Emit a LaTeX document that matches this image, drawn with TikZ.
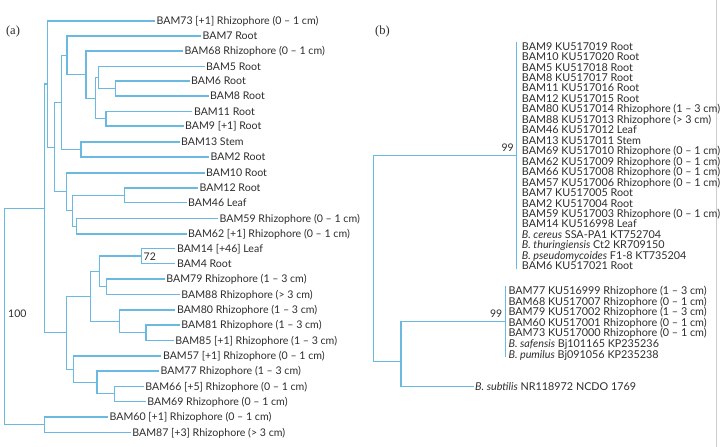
\documentclass[tikz,border=0pt]{standalone}
\usepackage{fontspec}
\setmainfont{Liberation Serif}
\newfontfamily\labfont{Lato}
\definecolor{treeblue}{RGB}{105,185,224}
\definecolor{txt}{RGB}{45,45,45}
\definecolor{edgegray}{RGB}{205,205,205}
\newcommand\tjoin[3]{\draw[branch] (#2) -- (#1 |- #2) -- (#1 |- #3) -- (#3);}
\begin{document}
\begin{tikzpicture}[x=1pt,y=-1pt,
  branch/.style={draw=treeblue,line width=1.1pt},
  leafl/.style={anchor=west,inner sep=1.5pt,text height=7.6pt,text depth=0pt,font=\labfont\fontsize{10.6}{12}\selectfont,text=txt},
  leafr/.style={anchor=west,inner sep=0pt,text height=7.6pt,text depth=0pt,font=\labfont\fontsize{10.8}{11}\selectfont,text=txt},
  boot/.style={font=\labfont\fontsize{10.5}{12}\selectfont,text=txt,inner sep=0pt},
  panel/.style={font=\fontsize{12.5}{14}\selectfont,text=txt,inner sep=0pt}]
\useasboundingbox (0,0) rectangle (721,447);
\draw[edgegray,line width=0.8pt] (716,0) -- (716,447);
\node[panel] (pa) at (13,31.7) {(a)};
\node[panel] (pb) at (382.5,31.7) {(b)};
% ---------------- left tree: leaves
\node[leafl] (L73) at (155,21) {BAM73 [+1] Rhizophore (0 – 1 cm)};
\node[leafl] (L7) at (201,36) {BAM7 Root};
\node[leafl] (L68) at (183,51) {BAM68 Rhizophore (0 – 1 cm)};
\node[leafl] (L5) at (204.5,66.5) {BAM5 Root};
\node[leafl] (L6) at (189.5,81) {BAM6 Root};
\node[leafl] (L8) at (208.5,96) {BAM8 Root};
\node[leafl] (L11) at (192.3,111.5) {BAM11 Root};
\node[leafl] (L9) at (183.5,126) {BAM9 [+1] Root};
\node[leafl] (L13) at (179.5,142) {BAM13 Stem};
\node[leafl] (L2) at (209,157) {BAM2 Root};
\node[leafl] (L10) at (204.5,173) {BAM10 Root};
\node[leafl] (L12) at (198,188) {BAM12 Root};
\node[leafl] (L46) at (186.5,202.5) {BAM46 Leaf};
\node[leafl] (L59) at (218,218.5) {BAM59 Rhizophore (0 – 1 cm)};
\node[leafl] (L62) at (186.5,234) {BAM62 [+1] Rhizophore (0 – 1 cm)};
\node[leafl] (L14) at (175.3,248.5) {BAM14 [+46] Leaf};
\node[leafl] (L4) at (175.3,263.5) {BAM4 Root};
\node[leafl] (L79) at (164.7,279) {BAM79 Rhizophore (1 – 3 cm)};
\node[leafl] (L88) at (179.7,294.3) {BAM88 Rhizophore (> 3 cm)};
\node[leafl] (L80) at (175.3,310) {BAM80 Rhizophore (1 – 3 cm)};
\node[leafl] (L81) at (179.7,325) {BAM81 Rhizophore (1 – 3 cm)};
\node[leafl] (L85) at (173.7,340.7) {BAM85 [+1] Rhizophore (1 – 3 cm)};
\node[leafl] (L57) at (161.3,356) {BAM57 [+1] Rhizophore (0 – 1 cm)};
\node[leafl] (L77) at (159,371) {BAM77 Rhizophore (1 – 3 cm)};
\node[leafl] (L66) at (143.7,386.3) {BAM66 [+5] Rhizophore (0 – 1 cm)};
\node[leafl] (L69) at (145.7,401.5) {BAM69 Rhizophore (0 – 1 cm)};
\node[leafl] (L60) at (108,417) {BAM60 [+1] Rhizophore (0 – 1 cm)};
\node[leafl] (L87) at (130.7,432.3) {BAM87 [+3] Rhizophore (> 3 cm)};
% ---------------- left tree: internal nodes
\coordinate (a68) at (115.3,88.5);
\coordinate (a58) at (98.3,77.5);
\coordinate (a119) at (106,118.75);
\coordinate (a5) at (95.7,98.1);
\coordinate (a68b) at (86,74.6);
\coordinate (a7) at (67,55.3);
\coordinate (a132) at (81,149.5);
\coordinate (a7b) at (61.7,102.4);
\coordinate (a1246) at (124.7,195.25);
\coordinate (a5962) at (76.7,226.25);
\coordinate (a1259) at (72.3,210.75);
\coordinate (a10) at (66.7,191.9);
\coordinate (nb) at (54.3,147.1);
\coordinate (nc) at (47.7,84);
\coordinate (a144) at (141.7,256);
\coordinate (a7988) at (106.7,286.7);
\coordinate (a1479) at (99.3,271.3);
\coordinate (a8185) at (146,332.85);
\coordinate (a80) at (119.3,321.4);
\coordinate (a99) at (90.3,296.4);
\coordinate (a6669) at (114.7,393.9);
\coordinate (a77) at (97,382.5);
\coordinate (a57) at (73.3,369.2);
\coordinate (nd) at (66.7,332.8);
\coordinate (ne) at (44.3,208.4);
\coordinate (a6087) at (44.3,424.65);
\coordinate (lroot) at (4.3,316.5);
% ---------------- left tree: branches
\tjoin{a68}{L6.west}{L8.west}
\tjoin{a58}{L5.west}{a68}
\tjoin{a119}{L11.west}{L9.west}
\tjoin{a5}{a58}{a119}
\tjoin{a68b}{L68.west}{a5}
\tjoin{a7}{L7.west}{a68b}
\tjoin{a132}{L13.west}{L2.west}
\tjoin{a7b}{a7}{a132}
\tjoin{a1246}{L12.west}{L46.west}
\tjoin{a5962}{L59.west}{L62.west}
\tjoin{a1259}{a1246}{a5962}
\tjoin{a10}{L10.west}{a1259}
\tjoin{nb}{a7b}{a10}
\tjoin{nc}{L73.west}{nb}
\tjoin{a144}{L14.west}{L4.west}
\tjoin{a7988}{L79.west}{L88.west}
\tjoin{a1479}{a144}{a7988}
\tjoin{a8185}{L81.west}{L85.west}
\tjoin{a80}{L80.west}{a8185}
\tjoin{a99}{a1479}{a80}
\tjoin{a6669}{L66.west}{L69.west}
\tjoin{a77}{L77.west}{a6669}
\tjoin{a57}{L57.west}{a77}
\tjoin{nd}{a99}{a57}
\tjoin{ne}{nc}{nd}
\tjoin{a6087}{L60.west}{L87.west}
\tjoin{lroot}{ne}{a6087}
\node[boot,anchor=west] (b100) at (8,314) {100};
\node[boot,anchor=west] (b72) at (143.5,256.5) {72};
% ---------------- right tree
\foreach \t [count=\i] in {
 {BAM9 KU517019 Root},
 {BAM10 KU517020 Root},
 {BAM5 KU517018 Root},
 {BAM8 KU517017 Root},
 {BAM11 KU517016 Root},
 {BAM12 KU517015 Root},
 {BAM80 KU517014 Rhizophore (1 – 3 cm)},
 {BAM88 KU517013 Rhizophore (> 3 cm)},
 {BAM46 KU517012 Leaf},
 {BAM13 KU517011 Stem},
 {BAM69 KU517010 Rhizophore (0 – 1 cm)},
 {BAM62 KU517009 Rhizophore (0 – 1 cm)},
 {BAM66 KU517008 Rhizophore (0 – 1 cm)},
 {BAM57 KU517006 Rhizophore (0 – 1 cm)},
 {BAM7 KU517005 Root},
 {BAM2 KU517004 Root},
 {BAM59 KU517003 Rhizophore (0 – 1 cm)},
 {BAM14 KU516998 Leaf},
 {\textit{B. cereus} SSA-PA1 KT752704},
 {\textit{B. thuringiensis} Ct2 KR709150},
 {\textit{B. pseudomycoides} F1-8 KT735204},
 {BAM6 KU517021 Root}}
 \node[leafr] (r\i) at (521.7,{46.3+(\i-1)*10.46}) {\t};
\foreach \t [count=\i] in {
 {BAM77 KU516999 Rhizophore (1 – 3 cm)},
 {BAM68 KU517007 Rhizophore (0 – 1 cm)},
 {BAM79 KU517002 Rhizophore (1 – 3 cm)},
 {BAM60 KU517001 Rhizophore (0 – 1 cm)},
 {BAM73 KU517000 Rhizophore (0 – 1 cm)},
 {\textit{B. safensis} Bj101165 KP235236},
 {\textit{B. pumilus} Bj091056 KP235238}}
 \node[leafr] (s\i) at (508.3,{290.7+(\i-1)*10.6}) {\t};
\node[leafr,inner sep=1.5pt] (Lsub) at (473.5,386.7) {\textit{B. subtilis} NR118972 NCDO 1769};
\coordinate (c1top) at (516.7,41.7);
\coordinate (c1bot) at (516.7,269.3);
\coordinate (c1) at (516.7,155.5);
\coordinate (c2top) at (505.7,285.7);
\coordinate (c2bot) at (505.7,357.3);
\coordinate (c2) at (505.7,321.7);
\coordinate (rn) at (401,361.7);
\coordinate (rroot) at (373.3,258);
\draw[branch] (c1top) -- (c1bot);
\draw[branch] (c2top) -- (c2bot);
\tjoin{rn}{c2}{Lsub.west}
\tjoin{rroot}{c1}{rn}
\node[boot,anchor=east] (b99a) at (514,147.3) {99};
\node[boot,anchor=east] (b99b) at (502.5,314) {99};
\end{tikzpicture}
\end{document}
